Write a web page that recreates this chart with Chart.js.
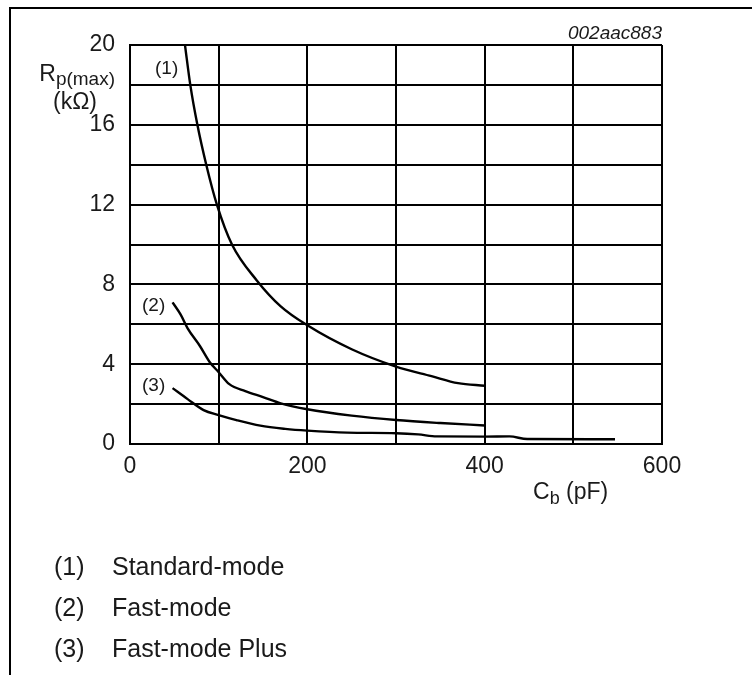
<!DOCTYPE html>
<html>
<head>
<meta charset="utf-8">
<script src="https://cdn.jsdelivr.net/npm/chart.js@4.4.1/dist/chart.umd.min.js"></script>
<style>
  html, body { margin: 0; padding: 0; background: #fff; }
  #wrap { position: relative; width: 752px; height: 675px; overflow: hidden; font-family: "Liberation Sans", Arial, sans-serif; color: #1a1a1a; }
  #frame { position: absolute; left: 9px; top: 7px; width: 760px; height: 700px; border-top: 2px solid #000; border-left: 2px solid #000; }
  canvas { position: absolute; left: 0; top: 0; }
  .t { position: absolute; line-height: 1; white-space: nowrap; }
</style>
</head>
<body>
<div id="wrap">
  <div id="frame"></div>
  <canvas id="c" width="752" height="675"></canvas>
  <div class="t" style="right:90px; top:23px; font-size:19px; font-style:italic;">002aac883</div>
  <div class="t" style="right:637px; top:62px; font-size:23px;">R<span style="font-size:19px; position:relative; top:4px;">p(max)</span></div>
  <div class="t" style="left:53px; top:90px; font-size:23px;">(kΩ)</div>
  <div class="t" style="left:533px; top:480px; font-size:23px;">C<span style="font-size:18px; position:relative; top:5px;">b</span> (pF)</div>
  <div class="t" style="left:155px; top:58px; font-size:19px;">(1)</div>
  <div class="t" style="left:142px; top:295px; font-size:19px;">(2)</div>
  <div class="t" style="left:142px; top:375px; font-size:19px;">(3)</div>
  <div class="t" style="left:54px; top:554px; font-size:25px;">(1)</div>
  <div class="t" style="left:112px; top:554px; font-size:25px;">Standard-mode</div>
  <div class="t" style="left:54px; top:595px; font-size:25px;">(2)</div>
  <div class="t" style="left:112px; top:595px; font-size:25px;">Fast-mode</div>
  <div class="t" style="left:54px; top:636px; font-size:25px;">(3)</div>
  <div class="t" style="left:112px; top:636px; font-size:25px;">Fast-mode Plus</div>
</div>
<script>
// Standard-mode curve (1): Cb in pF, Rp(max) in kΩ
const stdX = [62, 68, 76, 86, 98, 115, 143, 170, 200, 250, 300, 340, 370, 400];
const stdY = [20, 18, 16, 14, 12, 10, 8.2, 6.9, 5.95, 4.75, 3.88, 3.4, 3.05, 2.92];
// Fast-mode curve (2)
const fastX = [48, 57, 65, 79, 90, 100, 112, 130, 150, 170, 200, 250, 300, 350, 400];
const fastY = [7.1, 6.5, 5.8, 4.9, 4.1, 3.6, 3.0, 2.65, 2.35, 2.04, 1.74, 1.42, 1.2, 1.05, 0.93];
// Fast-mode Plus curve (3)
const plusX = [48, 65, 83, 100, 120, 147, 175, 200, 245, 300, 325, 346, 400, 428, 448, 547];
const plusY = [2.8, 2.25, 1.7, 1.45, 1.2, 0.92, 0.76, 0.67, 0.57, 0.54, 0.48, 0.38, 0.37, 0.38, 0.25, 0.24];
// Axis ticks
const xTickLabels = [0, 200, 400, 600];
const yTickLabels = [0, 4, 8, 12, 16, 20];

function pts(xs, ys) { return xs.map((x, i) => ({ x: x, y: ys[i] })); }

const lineStyle = {
  borderColor: '#000', borderWidth: 2.4, pointRadius: 0,
  cubicInterpolationMode: 'monotone', fill: false
};

const tickFont = { family: '"Liberation Sans", Arial, sans-serif', size: 23 };

new Chart(document.getElementById('c'), {
  type: 'line',
  data: {
    datasets: [
      Object.assign({ label: 'Standard-mode', data: pts(stdX, stdY) }, lineStyle),
      Object.assign({ label: 'Fast-mode', data: pts(fastX, fastY) }, lineStyle),
      Object.assign({ label: 'Fast-mode Plus', data: pts(plusX, plusY) }, lineStyle)
    ]
  },
  options: {
    responsive: false,
    animation: false,
    layout: { padding: { left: 0, right: 90, top: 45, bottom: 201 } },
    plugins: { legend: { display: false }, tooltip: { enabled: false } },
    scales: {
      x: {
        type: 'linear', min: 0, max: 600,
        afterFit: s => { s.height = 30; },
        grid: { color: '#000', lineWidth: 2, drawTicks: false },
        border: { color: '#000', width: 2 },
        ticks: {
          stepSize: 100, autoSkip: false, maxRotation: 0, padding: 9,
          color: '#1a1a1a', font: tickFont,
          callback: v => xTickLabels.includes(v) ? String(v) : ''
        }
      },
      y: {
        min: 0, max: 20,
        afterFit: s => { s.width = 130; },
        grid: { color: '#000', lineWidth: 2, drawTicks: false },
        border: { color: '#000', width: 2 },
        ticks: {
          stepSize: 2, autoSkip: false, padding: 15,
          color: '#1a1a1a', font: tickFont,
          callback: v => yTickLabels.includes(v) ? String(v) : ''
        }
      }
    }
  }
});
</script>
</body>
</html>
